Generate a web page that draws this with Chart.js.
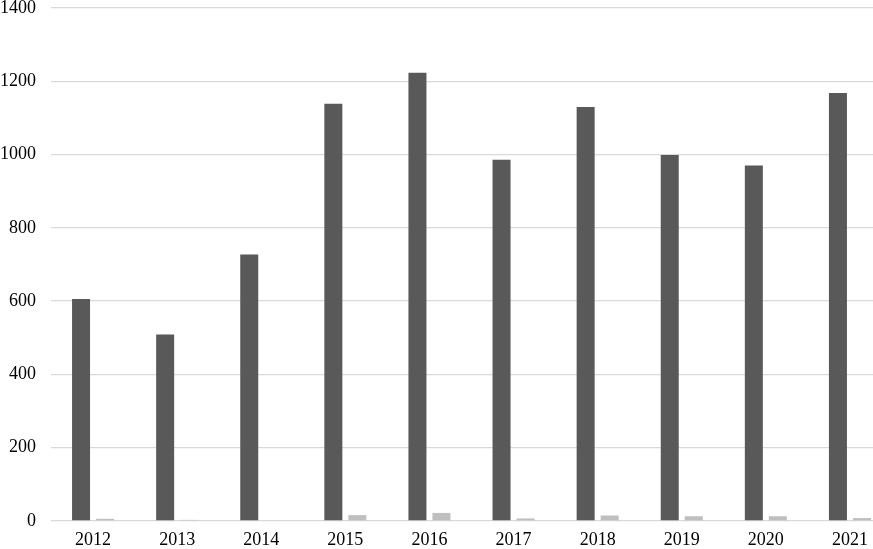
<!DOCTYPE html>
<html>
<head>
<meta charset="utf-8">
<script src="https://cdn.jsdelivr.net/npm/chart.js@4/dist/chart.umd.min.js"></script>
<style>
  html, body { margin: 0; padding: 0; background: #fff; overflow: hidden; }
  #wrap { width: 873px; height: 549px; overflow: hidden; position: relative; }
  #box { position: absolute; left: 0; top: -16px; width: 892px; height: 566px; }
</style>
</head>
<body>
<div id="wrap"><div id="box"><canvas id="chart"></canvas></div></div>
<script>
const years = ["2012", "2013", "2014", "2015", "2016", "2017", "2018", "2019", "2020", "2021"];
const mainValues = [606, 509, 727, 1139, 1223, 986, 1130, 999, 970, 1168];
const smallValues = [6, 3, 0, 16, 22, 7, 15, 13, 13, 8];
const yTicks = [0, 200, 400, 600, 800, 1000, 1200, 1400];

const fontSpec = { family: "'Liberation Serif', 'Times New Roman', serif", size: 18, lineHeight: 1 };

new Chart(document.getElementById("chart").getContext("2d"), {
  type: "bar",
  data: {
    labels: years,
    datasets: [
      {
        data: mainValues,
        backgroundColor: "#595959",
        borderWidth: 0,
        barPercentage: 0.75,
        categoryPercentage: 0.571,
      },
      {
        data: smallValues,
        backgroundColor: "#bfbfbf",
        borderWidth: 0,
        barPercentage: 0.75,
        categoryPercentage: 0.571,
      },
    ],
  },
  options: {
    responsive: true,
    maintainAspectRatio: false,
    animation: false,
    layout: { padding: 0 },
    plugins: {
      legend: { display: false },
      tooltip: { enabled: false },
    },
    scales: {
      x: {
        grid: { display: false, drawTicks: false },
        border: { display: false },
        ticks: { color: "#000", font: fontSpec, padding: 10, maxRotation: 0 },
        afterFit: (axis) => { axis.height = 29; },
      },
      y: {
        min: 0,
        max: 1400,
        afterBuildTicks: (axis) => {
          axis.ticks = yTicks.map((v) => ({ value: v }));
        },
        grid: { color: "#d9d9d9", lineWidth: 1.3, drawTicks: false },
        border: { display: false },
        ticks: { color: "#000", font: fontSpec, padding: 15, callback: (v) => String(v) },
        afterFit: (axis) => { axis.width = 51; },
      },
    },
  },
});
</script>
</body>
</html>
